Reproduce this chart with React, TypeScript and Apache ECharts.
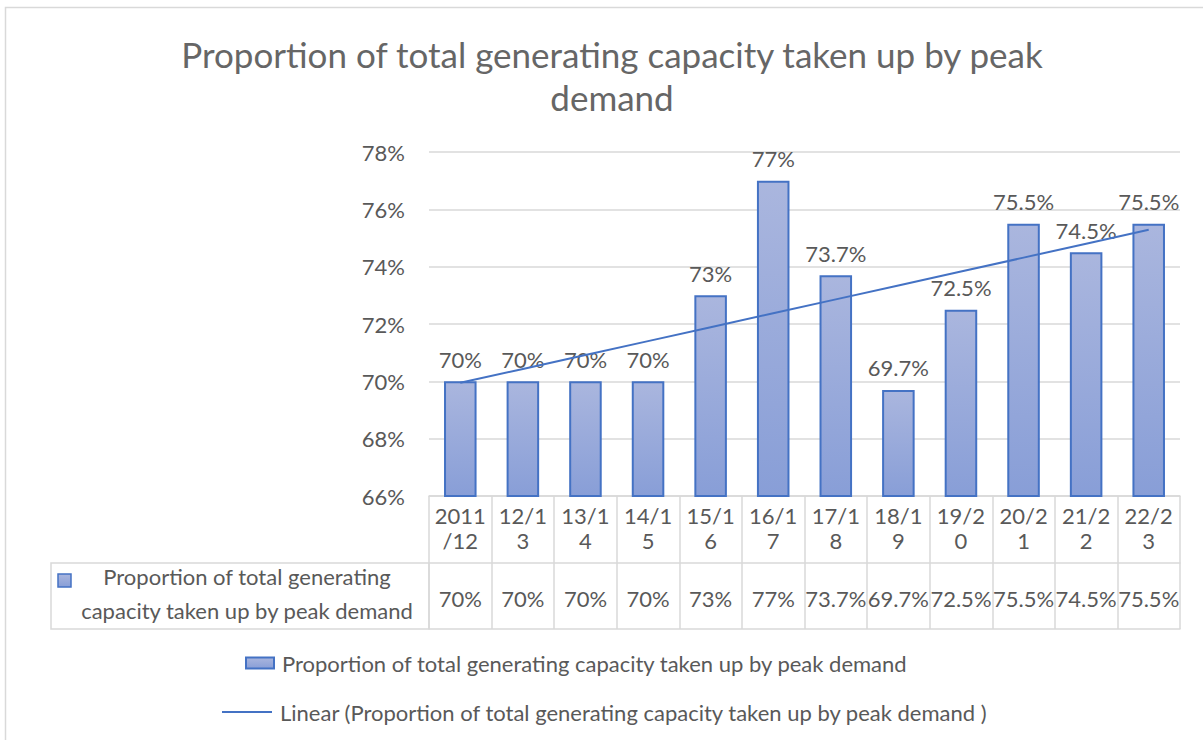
import React, { useEffect, useRef } from "react";
import * as echarts from "echarts";

const titleText = "Proportion of total generating capacity taken up by peak\ndemand";
const seriesName = "Proportion of total generating capacity taken up by peak demand";
const trendName = "Linear (Proportion of total generating capacity taken up by peak demand )";
const rowHeader = "Proportion of total generating\ncapacity taken up by peak demand";

const categories = ["2011/12", "12/13", "13/14", "14/15", "15/16", "16/17", "17/18", "18/19", "19/20", "20/21", "21/22", "22/23"];
const values = [70, 70, 70, 70, 73, 77, 73.7, 69.7, 72.5, 75.5, 74.5, 75.5];

const yMin = 66;
const yMax = 78;
const yStep = 2;

function linearTrend(ys: number[]): number[] {
  const n = ys.length;
  const xs = ys.map((_, i) => i + 1);
  const mx = xs.reduce((a, b) => a + b, 0) / n;
  const my = ys.reduce((a, b) => a + b, 0) / n;
  let sxy = 0;
  let sxx = 0;
  for (let i = 0; i < n; i++) {
    sxy += (xs[i] - mx) * (ys[i] - my);
    sxx += (xs[i] - mx) * (xs[i] - mx);
  }
  const slope = sxy / sxx;
  return xs.map((x) => +(my + slope * (x - mx)).toFixed(4));
}

const FONT = "Lato, 'Noto Sans', sans-serif";
const TEXT = "#595959";
const TITLE = "#666666";
const GRID = "#d9d9d9";
const BLUE = "#4472c4";
const FS = 22;

const barFill = () =>
  new echarts.graphic.LinearGradient(0, 0, 0, 1, [
    { offset: 0, color: "#aab6de" },
    { offset: 1, color: "#889ed7" },
  ]);

export default function App() {
  const ref = useRef<HTMLDivElement>(null);
  useEffect(() => {
    if (!ref.current) return;
    const chart = echarts.init(ref.current, null, { renderer: "svg" });
    const gridLeft = 429;
    const gridRight = 1180;
    const gridTop = 152;
    const gridBottom = 496;
    chart.setOption({
      animation: false,
      backgroundColor: "#ffffff",
      textStyle: { fontFamily: FONT },
      title: {
        text: titleText,
        left: 607,
        textAlign: "center",
        top: 27,
        textStyle: { fontFamily: FONT, fontSize: 35, fontWeight: "normal", color: TITLE, lineHeight: 43 },
      },
      grid: { left: gridLeft, right: 1203 - gridRight, top: gridTop, bottom: 740 - gridBottom },
      legend: [
        {
          data: [{ name: seriesName, icon: "rect" }],
          left: 245,
          top: 651,
          padding: 0,
          itemWidth: 28,
          itemHeight: 11,
          textStyle: { fontFamily: FONT, fontSize: FS, color: TEXT, lineHeight: 24, padding: [0, 0, 0, 3] },
        },
        {
          data: [{ name: trendName, icon: "rect" }],
          left: 222,
          top: 700,
          padding: 0,
          itemWidth: 50,
          itemHeight: 2,
          textStyle: { fontFamily: FONT, fontSize: FS, color: TEXT, lineHeight: 24, padding: [0, 0, 0, 3] },
        },
      ],
      xAxis: [
        {
          type: "category",
          data: categories,
          position: "bottom",
          axisLine: { show: true, lineStyle: { color: GRID, width: 1.5 } },
          axisTick: { show: true, length: 133, lineStyle: { color: GRID, width: 1.5 } },
          axisLabel: {
            interval: 0,
            margin: 7,
            fontSize: FS,
            lineHeight: 25,
            color: TEXT,
            fontFamily: FONT,
            formatter: (s: string) => s.slice(0, 4) + "\n" + s.slice(4),
          },
        },
        {
          type: "category",
          data: values.map((v) => v + "%"),
          position: "bottom",
          offset: 67,
          axisLine: { show: true, lineStyle: { color: GRID, width: 1.5 } },
          axisTick: { show: false },
          axisLabel: { interval: 0, margin: 24, fontSize: FS, color: TEXT, fontFamily: FONT },
        },
        {
          type: "category",
          data: categories,
          position: "bottom",
          offset: 133,
          axisLine: { show: true, lineStyle: { color: GRID, width: 1.5 } },
          axisTick: { show: false },
          axisLabel: { show: false },
        },
      ],
      yAxis: {
        type: "value",
        min: yMin,
        max: yMax,
        interval: yStep,
        axisLine: { show: false },
        axisTick: { show: false },
        splitLine: { lineStyle: { color: GRID, width: 1.5 } },
        axisLabel: { margin: 24, fontSize: FS, color: TEXT, fontFamily: FONT, formatter: (v: number) => v + "%" },
      },
      series: [
        {
          name: seriesName,
          type: "bar",
          xAxisIndex: 0,
          data: values,
          barWidth: "52%",
          itemStyle: { color: barFill(), borderColor: BLUE, borderWidth: 2 },
          label: {
            show: true,
            position: "top",
            distance: 11,
            fontSize: FS,
            color: TEXT,
            fontFamily: FONT,
            formatter: (p: any) => p.value + "%",
          },
        },
        {
          name: trendName,
          type: "line",
          xAxisIndex: 0,
          data: linearTrend(values),
          symbol: "none",
          lineStyle: { color: BLUE, width: 2 },
          itemStyle: { color: BLUE },
          z: 5,
        },
      ],
      graphic: [
        {
          type: "rect",
          shape: { x: 5.5, y: 7.5, width: 1240, height: 780 },
          style: { fill: "none", stroke: GRID, lineWidth: 1.5 },
          silent: true,
        },
        {
          type: "rect",
          shape: { x: 51, y: 563, width: gridLeft - 51, height: 66 },
          style: { fill: "none", stroke: GRID, lineWidth: 1.5 },
          silent: true,
        },
        {
          type: "rect",
          shape: { x: 58, y: 574, width: 13, height: 13 },
          style: { fill: barFill(), stroke: BLUE, lineWidth: 1.5 },
          silent: true,
        },
        {
          type: "text",
          x: 247,
          y: 593,
          style: {
            text: rowHeader,
            fontFamily: FONT,
            fontSize: FS,
            lineHeight: 34,
            fill: TEXT,
            align: "center",
            verticalAlign: "middle",
          },
          silent: true,
        },
      ],
    });
    return () => chart.dispose();
  }, []);
  return <div ref={ref} style={{ position: "absolute", left: 0, top: 0, width: 1203, height: 740 }} />;
}
